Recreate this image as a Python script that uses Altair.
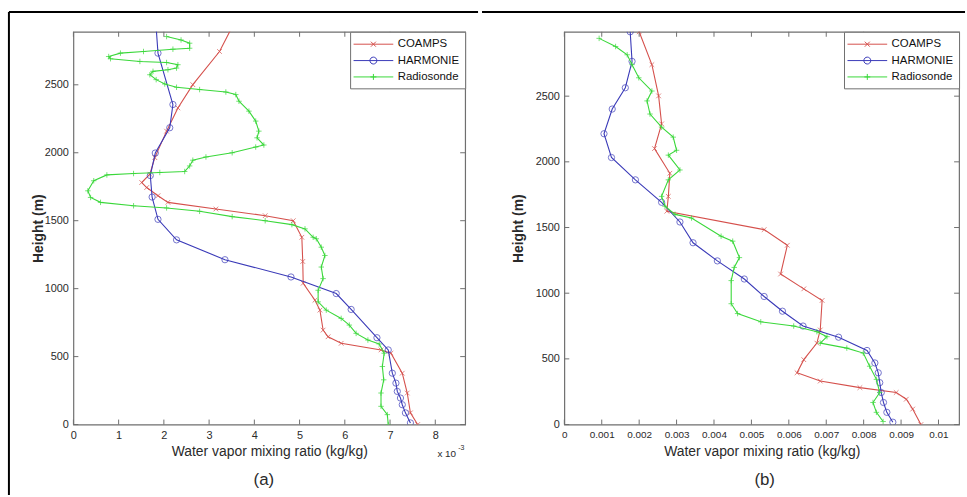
import altair as alt
import pandas as pd

SERIES = ["COAMPS", "HARMONIE", "Radiosonde"]
COLORS = ["#d5504c", "#3a3ab8", "#3ad83a"]

# ---- Panel (a): mixing ratio in units of 1e-3 kg/kg, height in m (top -> bottom)
a_coamps_q = [3.50, 3.23, 2.64, 2.31, 2.06, 1.80, 1.69, 1.51, 1.62, 1.87, 2.09, 3.15, 4.24, 4.86,
              5.05, 5.07, 5.08, 5.34, 5.45, 5.52, 5.63, 5.92, 6.80, 7.02, 7.27, 7.38, 7.45, 7.61]
a_coamps_h = [2920, 2745, 2501, 2330, 2159, 1964, 1842, 1781, 1744, 1684, 1635, 1586, 1537, 1500,
              1378, 1200, 1040, 915, 842, 695, 646, 598, 549, 525, 378, 232, 86, 0]

a_harm_q = [1.83, 1.87, 2.20, 2.13, 1.81, 1.70, 1.74, 1.87, 2.28, 3.35, 4.81, 5.81, 6.14, 6.71,
            6.96, 7.05, 7.13, 7.16, 7.23, 7.27, 7.34, 7.45]
a_harm_h = [2920, 2733, 2355, 2184, 1998, 1832, 1674, 1510, 1359, 1213, 1086, 964, 847, 639,
            549, 378, 305, 244, 195, 146, 86, 12]

a_sonde_q = [2.06, 2.38, 2.57, 2.57, 2.20, 1.55, 1.04, 0.78, 0.82, 1.47, 2.06, 2.31, 2.28, 2.09,
             1.76, 1.69, 1.83, 2.02, 2.28, 2.79, 3.37, 3.59, 3.66, 3.88, 4.03, 4.10, 4.06, 4.21,
             4.03, 3.51, 2.93, 2.64, 2.57, 2.46, 1.91, 1.33, 0.74, 0.45, 0.32, 0.38, 0.60, 1.33,
             2.06, 2.79, 3.51, 4.24, 4.83, 5.12, 5.30, 5.37, 5.48, 5.56, 5.48, 5.52, 5.41, 5.41,
             5.59, 5.92, 6.10, 6.25, 6.51, 6.76, 6.87, 6.83, 6.86, 6.80, 6.80, 6.94, 6.96]
a_sonde_h = [2855, 2830, 2806, 2769, 2762, 2745, 2733, 2708, 2692, 2672, 2664, 2648, 2623, 2611,
             2599, 2574, 2538, 2506, 2482, 2465, 2447, 2428, 2379, 2306, 2233, 2159, 2110, 2057,
             2042, 2000, 1969, 1945, 1903, 1862, 1855, 1847, 1837, 1794, 1720, 1671, 1635, 1610,
             1594, 1569, 1530, 1500, 1471, 1440, 1378, 1367, 1305, 1244, 1159, 1074, 988, 903,
             842, 781, 732, 671, 622, 593, 525, 427, 329, 232, 134, 73, 0]

# ---- Panel (b): mixing ratio in kg/kg, height in m (top -> bottom)
b_coamps_q = [0.00200, 0.00234, 0.00252, 0.00260, 0.00241, 0.00282, 0.00278, 0.00274, 0.00534,
              0.00596, 0.00578, 0.00640, 0.00689, 0.00684, 0.00675, 0.00640, 0.00622, 0.00684,
              0.00790, 0.00887, 0.00914, 0.00931, 0.00953]
b_coamps_h = [2990, 2740, 2502, 2289, 2101, 1913, 1737, 1624, 1484, 1365, 1146, 1033, 945, 720,
              620, 494, 394, 331, 281, 244, 193, 118, 0]

b_harm_q = [0.00176, 0.00181, 0.00163, 0.00128, 0.00106, 0.00126, 0.00190, 0.00260, 0.00309,
            0.00344, 0.00409, 0.00481, 0.00534, 0.00583, 0.00638, 0.00733, 0.00809, 0.00830,
            0.00839, 0.00843, 0.00847, 0.00853, 0.00862, 0.00878]
b_harm_h = [2990, 2765, 2564, 2402, 2214, 2033, 1863, 1692, 1542, 1384, 1246, 1108, 975, 863,
            750, 665, 564, 469, 394, 319, 244, 168, 93, 18]

b_sonde_q = [0.00093, 0.00137, 0.00168, 0.00181, 0.00199, 0.00234, 0.00221, 0.00229, 0.00260,
             0.00291, 0.00300, 0.00278, 0.00309, 0.00278, 0.00260, 0.00269, 0.00296, 0.00340,
             0.00419, 0.00450, 0.00468, 0.00454, 0.00446, 0.00446, 0.00463, 0.00525, 0.00613,
             0.00675, 0.00702, 0.00684, 0.00755, 0.00799, 0.00816, 0.00834, 0.00843, 0.00825,
             0.00834, 0.00852]
b_sonde_h = [2940, 2878, 2815, 2740, 2640, 2539, 2464, 2364, 2264, 2188, 2088, 2051, 1938, 1863,
             1737, 1662, 1600, 1572, 1434, 1396, 1271, 1196, 1096, 920, 845, 782, 750, 707, 669,
             620, 582, 544, 444, 344, 244, 168, 93, 23]

# ticks / axes
a_xticks = [0, 1, 2, 3, 4, 5, 6, 7, 8]
b_xticks = [0, 0.001, 0.002, 0.003, 0.004, 0.005, 0.006, 0.007, 0.008, 0.009, 0.01]
yticks = [0, 500, 1000, 1500, 2000, 2500]

# marker shapes (curve) and legend symbols (line + marker)
MARK_X = "M-1,-1L1,1M-1,1L1,-1"
MARK_PLUS = "M-1,0H1M0,-1V1"
LEG_SHAPES = [
    "M-1.5,0H5.17M1.41,-0.42L2.25,0.42M1.41,0.42L2.25,-0.42",
    "M-1.5,0H5.17M1.25,0A0.58,0.58 0 1,0 2.41,0A0.58,0.58 0 1,0 1.25,0",
    "M-1.5,0H5.17M1.83,-0.5V0.5M1.33,0H2.33",
]

FRAME = "#6f6f6f"
TXT = "#2a2a2a"
FONT = "Liberation Sans"


def make_df(pairs):
    rows = []
    for name, (qs, hs) in zip(SERIES, pairs):
        for i, (q, h) in enumerate(zip(qs, hs)):
            rows.append({"series": name, "q": q, "h": h, "i": i})
    return pd.DataFrame(rows)


def legend():
    return alt.Legend(orient="top-right", offset=0, padding=6, rowPadding=4.5, symbolSize=144,
                      labelOffset=29, symbolStrokeWidth=1, symbolOpacity=1, labelFontSize=11.5,
                      labelFont=FONT, labelColor="#111", strokeColor=FRAME, fillColor="white",
                      cornerRadius=0, title=None)


def panel(df, xdom, ydom, xticks, xfmt, w, h, xlabsize, ytitle_x, label, label_x,
          frame_left, frame_right, extra=None):
    xs = alt.Scale(domain=xdom, nice=False, zero=False)
    ys = alt.Scale(domain=ydom, nice=False, zero=False)
    cs = alt.Scale(domain=SERIES, range=COLORS)
    xax = alt.Axis(values=xticks, format=xfmt, title="Water vapor mixing ratio (kg/kg)",
                   grid=False, domain=False, ticks=False, tickSize=0, labelPadding=5,
                   labelFontSize=xlabsize, labelColor=TXT, labelFont=FONT, labelOverlap=False,
                   titleFontSize=14, titleColor=TXT, titleFont=FONT, titleFontWeight="normal",
                   titleBaseline="middle", titleY=27, labelFlush=False)
    yax = alt.Axis(values=yticks, format="d", title="Height (m)", grid=False, domain=False,
                   ticks=False, tickSize=0, labelPadding=5, labelFontSize=11, labelColor=TXT,
                   labelFont=FONT, labelOverlap=False, titleFontSize=14, titleColor=TXT,
                   titleFont=FONT, titleFontWeight="bold", titleBaseline="middle",
                   titleX=ytitle_x, titleY=198, titleAngle=270, labelFlush=False)
    X = lambda f: alt.X(f, scale=xs, axis=xax)
    Y = lambda f: alt.Y(f, scale=ys, axis=yax)
    base = alt.Chart(df)
    layers = []
    specs = [("COAMPS", MARK_X, 22, COLORS[0]), ("HARMONIE", "circle", 40, COLORS[1]),
             ("Radiosonde", MARK_PLUS, 30, COLORS[2])]
    for name, shp, sz, col in specs:
        sub = base.transform_filter(alt.datum.series == name)
        layers.append(sub.mark_line(strokeWidth=1.1, clip=True, color=col).encode(
            x=X("q:Q"), y=Y("h:Q"), order="i:Q"))
        layers.append(
            sub.mark_point(filled=False, strokeWidth=1, clip=True, size=sz, shape=shp, color=col)
            .encode(x=X("q:Q"), y=Y("h:Q"))
        )
    # legend carrier (invisible marks; legend symbols drawn with line + marker)
    layers.append(
        base.mark_point(filled=False, opacity=0).encode(
            x=X("q:Q"), y=Y("h:Q"),
            color=alt.Color("series:N", scale=cs, legend=legend()),
            shape=alt.Shape("series:N", scale=alt.Scale(domain=SERIES, range=LEG_SHAPES),
                            legend=legend()),
        )
    )
    # inward tick marks on four sides
    xt = alt.Chart(pd.DataFrame({"t": xticks}))
    yt = alt.Chart(pd.DataFrame({"t": yticks}))
    layers.append(xt.mark_rule(color=FRAME, strokeWidth=1).encode(
        x=X("t:Q"), y=alt.value(h), y2=alt.value(h - 5)))
    layers.append(xt.mark_rule(color=FRAME, strokeWidth=1).encode(
        x=X("t:Q"), y=alt.value(0), y2=alt.value(5)))
    layers.append(yt.mark_rule(color=FRAME, strokeWidth=1).encode(
        y=Y("t:Q"), x=alt.value(0), x2=alt.value(5)))
    layers.append(yt.mark_rule(color=FRAME, strokeWidth=1).encode(
        y=Y("t:Q"), x=alt.value(w), x2=alt.value(w - 5)))
    one = alt.Chart(pd.DataFrame({"k": [0]}))
    # sub-figure label
    layers.append(one.mark_text(fontSize=17, font=FONT, color=TXT, align="center",
                                baseline="middle").encode(
        x=alt.value(label_x), y=alt.value(h + 56), text=alt.value(label)))
    if extra is not None:
        layers.append(one.mark_text(fontSize=10, font=FONT, color=TXT, align="left",
                                    baseline="middle").encode(
            x=alt.value(w - 28), y=alt.value(h + 30), text=alt.value("x 10")))
        layers.append(one.mark_text(fontSize=7, font=FONT, color=TXT, align="left",
                                    baseline="middle").encode(
            x=alt.value(w - 7), y=alt.value(h + 24), text=alt.value("-3")))
    # outer figure frame (top and left black border)
    layers.append(one.mark_rule(color="black", strokeWidth=2).encode(
        x=alt.value(frame_left), x2=alt.value(frame_right), y=alt.value(-20)))
    if extra is not None:
        layers.append(one.mark_rule(color="black", strokeWidth=2).encode(
            x=alt.value(frame_left), y=alt.value(-20), y2=alt.value(h + 71)))
    return alt.layer(*layers).properties(width=w, height=h)


df_a = make_df([(a_coamps_q, a_coamps_h), (a_harm_q, a_harm_h), (a_sonde_q, a_sonde_h)])
df_b = make_df([(b_coamps_q, b_coamps_h), (b_harm_q, b_harm_h), (b_sonde_q, b_sonde_h)])

left = panel(df_a, [0, 8.66], [0, 2890], a_xticks, "d", 395, 396, 11, -35, "(a)", 192,
             -65, 408, extra=True)
right = panel(df_b, [0, 0.01055], [0, 2990], b_xticks, "~f", 398, 396, 10, -46, "(b)", 202,
              -83, 404)

chart = (
    alt.hconcat(left, right, spacing=0)
    .resolve_scale(color="independent", shape="independent")
    .resolve_legend(color="independent", shape="independent")
    .configure(padding={"left": 7, "top": 8, "right": 0, "bottom": 0}, background="white")
    .configure_view(stroke=FRAME, strokeWidth=1.2)
    .configure_axis(labelOverlap=False)
)

chart.save("out.html", embed_options={"renderer": "svg", "actions": False})
